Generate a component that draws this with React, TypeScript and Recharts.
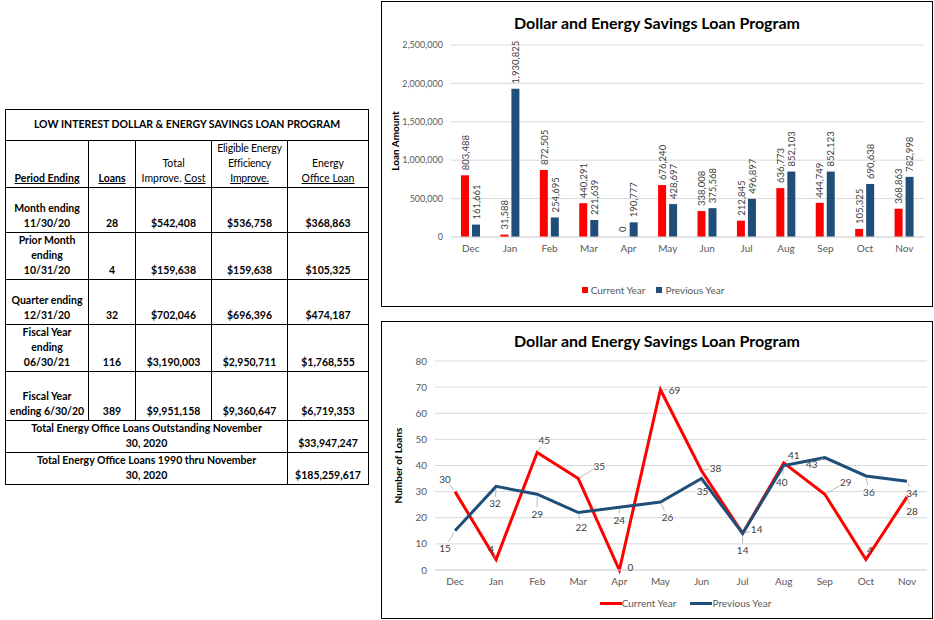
import React from 'react';
import { ComposedChart, Bar, LineChart, Line, XAxis, YAxis, CartesianGrid, LabelList, Legend, Label } from 'recharts';

const months = ['Dec', 'Jan', 'Feb', 'Mar', 'Apr', 'May', 'Jun', 'Jul', 'Aug', 'Sep', 'Oct', 'Nov'];
const currentYearAmount = [803488, 31588, 872505, 440291, 0, 676240, 338008, 212845, 636773, 444749, 105325, 368863];
const previousYearAmount = [161661, 1930825, 254695, 221639, 190777, 428697, 375568, 496897, 852103, 852123, 690638, 782998];
const currentYearLoans = [30, 4, 45, 35, 0, 69, 38, 14, 41, 29, 4, 28];
const previousYearLoans = [15, 32, 29, 22, 24, 26, 35, 14, 40, 43, 36, 34];
const amountTicks = [0, 500000, 1000000, 1500000, 2000000, 2500000];
const loanTicks = [0, 10, 20, 30, 40, 50, 60, 70, 80];

const chartTitle = 'Dollar and Energy Savings Loan Program';
const seriesNames = ['Current Year', 'Previous Year'];

const tableTitle = 'LOW INTEREST DOLLAR & ENERGY SAVINGS LOAN PROGRAM';
const periodLabels = [
  ['Month  ending', '11/30/20'],
  ['Prior Month', 'ending', '10/31/20'],
  ['Quarter ending', '12/31/20'],
  ['Fiscal Year', 'ending', '06/30/21'],
  ['Fiscal Year', 'ending 6/30/20'],
];
const loanCounts = ['28', '4', '32', '116', '389'];
const totalImproveCost = ['$542,408', '$159,638', '$702,046', '$3,190,003', '$9,951,158'];
const eligibleImprove = ['$536,758', '$159,638', '$696,396', '$2,950,711', '$9,360,647'];
const energyOfficeLoan = ['$368,863', '$105,325', '$474,187', '$1,768,555', '$6,719,353'];
const totalsLabels = [
  ['Total Energy Office Loans Outstanding  November', '30, 2020'],
  ['Total Energy Office Loans 1990 thru November', '30, 2020'],
];
const totalsValues = ['$33,947,247', '$185,259,617'];

// label placement (layout only)
const currentLabelOffsets = [[-10, -13], [-5, -11], [7, -12], [21, -13], [11, -3], [14, 0], [14, -3], [14, -4], [10, -8], [21, -12], [4, -10], [5, 14]];
const previousLabelOffsets = [[-10, 17], [-1, 17], [0, 20], [3, 14], [0, 13], [7, 15], [1, 12], [0, 17], [-2, 16], [-13, 6], [3, 16], [5, 12]];

const RED = '#FF0000';
const BLUE = '#1F4E79';
const FONT = 'Lato, "Noto Sans", sans-serif';
const BAR_SIZE = 8;
const BAR_GAP = 3;
const BAR_SHIFT = (BAR_SIZE + BAR_GAP) / 2;

const barData = months.map((m, i) => ({ month: m, current: currentYearAmount[i], previous: previousYearAmount[i] }));
const lineData = months.map((m, i) => ({ month: m, current: currentYearLoans[i], previous: previousYearLoans[i] }));

const fmt = (v: number) => Number(v).toLocaleString('en-US');

const makeBarLabel = (shift: number) => (props: any) => {
  const { x, y, value } = props;
  const cx = Number(x) + shift;
  const ty = Number(y) - 5;
  return (
    <text x={cx} y={ty} transform={`rotate(-90, ${cx}, ${ty})`} textAnchor="start" dominantBaseline="central" fontSize={9.5} fill="#404040">
      {fmt(value)}
    </text>
  );
};

const makeLineLabel = (offsets: number[][]) => (props: any) => {
  const { x, y, value, index } = props;
  const off = offsets[index] || [0, -10];
  const dx = off[0];
  const dy = off[1];
  const lx = Number(x) + dx;
  const ly = Number(y) + dy;
  const dist = Math.hypot(dx, dy);
  const showLine = dist > 12;
  return (
    <g>
      {showLine && (
        <line
          x1={Number(x) + (dx * 2) / dist}
          y1={Number(y) + (dy * 2) / dist}
          x2={Number(x) + dx * (1 - 7 / dist)}
          y2={Number(y) + dy * (1 - 7 / dist)}
          stroke="#A6A6A6"
          strokeWidth={0.8}
        />
      )}
      <text x={lx} y={ly} textAnchor="middle" dominantBaseline="central" fontSize={10} fill="#404040">
        {value}
      </text>
    </g>
  );
};

const YLabel = (text: string, x: number) => (props: any) => {
  const vb = props.viewBox || {};
  const y = Number(vb.y) + Number(vb.height) / 2;
  return (
    <text x={x} y={y} transform={`rotate(-90, ${x}, ${y})`} textAnchor="middle" dominantBaseline="central" fontSize={10} fontWeight="bold" fill="#000">
      {text}
    </text>
  );
};

const BarLegend = () => (
  <div style={{ height: 45, display: 'flex', justifyContent: 'center', alignItems: 'flex-start', paddingTop: 23, boxSizing: 'border-box', fontSize: 10, color: '#595959', fontFamily: FONT }}>
    <span style={{ display: 'inline-block', width: 6, height: 6, background: RED, marginRight: 3, marginTop: 3 }} />
    <span style={{ marginRight: 11 }}>{seriesNames[0]}</span>
    <span style={{ display: 'inline-block', width: 6, height: 6, background: BLUE, marginRight: 3, marginTop: 3 }} />
    <span>{seriesNames[1]}</span>
  </div>
);

const LineLegend = () => (
  <div style={{ height: 24, display: 'flex', justifyContent: 'center', alignItems: 'flex-start', paddingTop: 3, paddingLeft: 62, boxSizing: 'border-box', fontSize: 10, color: '#595959', fontFamily: FONT }}>
    <span style={{ display: 'inline-block', width: 22, height: 3, background: RED, marginTop: 5 }} />
    <span style={{ marginRight: 14 }}>{seriesNames[0]}</span>
    <span style={{ display: 'inline-block', width: 22, height: 3, background: BLUE, marginTop: 5 }} />
    <span>{seriesNames[1]}</span>
  </div>
);

const cellBorder = '1px solid #000';
const tdBase: React.CSSProperties = {
  border: cellBorder,
  textAlign: 'center',
  verticalAlign: 'bottom',
  padding: '0 1px 1px 1px',
  lineHeight: '15px',
  overflow: 'hidden',
  whiteSpace: 'nowrap',
};
const rowHeights = [45, 46, 45, 47, 49];

const LoanTable = () => (
  <table
    style={{
      position: 'absolute',
      left: 5,
      top: 109,
      borderCollapse: 'collapse',
      tableLayout: 'fixed',
      width: 364,
      fontFamily: FONT,
      fontSize: 10.5,
      color: '#000',
    }}
  >
    <colgroup>
      <col style={{ width: 83 }} />
      <col style={{ width: 47 }} />
      <col style={{ width: 76 }} />
      <col style={{ width: 76 }} />
      <col style={{ width: 81 }} />
    </colgroup>
    <tbody>
      <tr style={{ height: 31 }}>
        <td colSpan={5} style={{ ...tdBase, verticalAlign: 'middle', fontWeight: 'bold', fontSize: 10.5 }}>{tableTitle}</td>
      </tr>
      <tr style={{ height: 46 }}>
        <td style={{ ...tdBase, fontWeight: 'bold' }}><u>Period Ending</u></td>
        <td style={{ ...tdBase, fontWeight: 'bold' }}><u>Loans</u></td>
        <td style={tdBase}>Total<br />Improve. <u>Cost</u></td>
        <td style={{ ...tdBase, letterSpacing: -0.2 }}>Eligible Energy<br />Efficiency<br /><u>Improve.</u></td>
        <td style={tdBase}>Energy<br /><u>Office Loan</u></td>
      </tr>
      {periodLabels.map((p, i) => (
        <tr key={i} style={{ height: rowHeights[i] }}>
          <td style={{ ...tdBase, fontWeight: 'bold' }}>
            {p.map((l, j) => (
              <React.Fragment key={j}>
                {j > 0 && <br />}
                {l}
              </React.Fragment>
            ))}
          </td>
          <td style={{ ...tdBase, fontWeight: 'bold' }}>{loanCounts[i]}</td>
          <td style={{ ...tdBase, fontWeight: 'bold' }}>{totalImproveCost[i]}</td>
          <td style={{ ...tdBase, fontWeight: 'bold' }}>{eligibleImprove[i]}</td>
          <td style={{ ...tdBase, fontWeight: 'bold' }}>{energyOfficeLoan[i]}</td>
        </tr>
      ))}
      {totalsLabels.map((t, i) => (
        <tr key={'t' + i} style={{ height: i === 0 ? 31 : 32 }}>
          <td colSpan={4} style={{ ...tdBase, fontWeight: 'bold' }}>
            {t[0]}<br />{t[1]}
          </td>
          <td style={{ ...tdBase, fontWeight: 'bold' }}>{totalsValues[i]}</td>
        </tr>
      ))}
    </tbody>
  </table>
);

const titleStyle: React.CSSProperties = {
  position: 'absolute',
  left: 0,
  width: 550,
  textAlign: 'center',
  fontWeight: 'bold',
  fontSize: 16,
  lineHeight: '18px',
  color: '#000',
  fontFamily: FONT,
};

export default function App() {
  return (
    <div style={{ position: 'absolute', left: 0, top: 0, width: 934, height: 620, background: '#fff', fontFamily: FONT, overflow: 'hidden' }}>
      <LoanTable />

      <div style={{ position: 'absolute', left: 381, top: 1, width: 550, height: 304, border: '1px solid #000', background: '#fff' }}>
        <div style={{ ...titleStyle, top: 12 }}>{chartTitle}</div>
        <ComposedChart width={550} height={304} data={barData} margin={{ top: 43, right: 8, left: 0, bottom: 0 }} barSize={BAR_SIZE} barGap={BAR_GAP}>
          <CartesianGrid vertical={false} stroke="#D9D9D9" />
          <XAxis dataKey="month" height={24} tickLine={false} axisLine={{ stroke: '#D9D9D9' }} tick={{ fontSize: 10, fill: '#595959' }} />
          <YAxis
            width={69}
            domain={[0, 2500000]}
            ticks={amountTicks}
            tickFormatter={fmt}
            axisLine={false}
            tickLine={false}
            tick={{ fontSize: 9, fill: '#595959' }}
          >
            <Label content={YLabel('Loan Amount', 13)} />
          </YAxis>
          <Legend verticalAlign="bottom" content={BarLegend} />
          <Bar dataKey="current" name={seriesNames[0]} fill={RED} isAnimationActive={false} />
          <Bar dataKey="previous" name={seriesNames[1]} fill={BLUE} isAnimationActive={false} />
          <Line dataKey="current" stroke="none" dot={false} activeDot={false} legendType="none" isAnimationActive={false}>
            <LabelList dataKey="current" content={makeBarLabel(-BAR_SHIFT)} />
          </Line>
          <Line dataKey="previous" stroke="none" dot={false} activeDot={false} legendType="none" isAnimationActive={false}>
            <LabelList dataKey="previous" content={makeBarLabel(BAR_SHIFT)} />
          </Line>
        </ComposedChart>
      </div>

      <div style={{ position: 'absolute', left: 381, top: 321, width: 550, height: 296, border: '1px solid #000', background: '#fff' }}>
        <div style={{ ...titleStyle, top: 10 }}>{chartTitle}</div>
        <LineChart width={550} height={296} data={lineData} margin={{ top: 39, right: 5, left: 0, bottom: 0 }}>
          <CartesianGrid vertical={false} stroke="#D9D9D9" />
          <XAxis
            dataKey="month"
            height={24}
            padding={{ left: 20, right: 20 }}
            tickLine={false}
            axisLine={{ stroke: '#D9D9D9' }}
            tick={{ fontSize: 10, fill: '#595959' }}
          />
          <YAxis
            width={53}
            domain={[0, 80]}
            ticks={loanTicks}
            axisLine={false}
            tickLine={false}
            tick={{ fontSize: 10, fill: '#595959' }}
          >
            <Label content={YLabel('Number of Loans', 16)} />
          </YAxis>
          <Legend verticalAlign="bottom" content={LineLegend} />
          <Line dataKey="current" name={seriesNames[0]} stroke={RED} strokeWidth={3} dot={false} isAnimationActive={false}>
            <LabelList dataKey="current" content={makeLineLabel(currentLabelOffsets)} />
          </Line>
          <Line dataKey="previous" name={seriesNames[1]} stroke={BLUE} strokeWidth={3} dot={false} isAnimationActive={false}>
            <LabelList dataKey="previous" content={makeLineLabel(previousLabelOffsets)} />
          </Line>
        </LineChart>
      </div>
    </div>
  );
}
